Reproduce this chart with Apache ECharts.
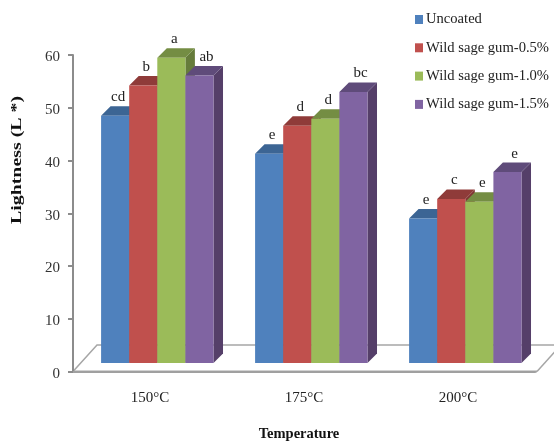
<!DOCTYPE html>
<html><head><meta charset="utf-8">
<style>html,body{margin:0;padding:0;background:#fff}#c{width:554px;height:446px}#c canvas{filter:blur(0.45px)}</style>
<script src="https://cdn.jsdelivr.net/npm/echarts@6/dist/echarts.min.js"></script>
</head><body><div id="c"></div>
<script>
var categories = ['150°C','175°C','200°C'];
var seriesNames = ['Uncoated','Wild sage gum-0.5%','Wild sage gum-1.0%','Wild sage gum-1.5%'];
var uncoated = [48.5,41.3,29.0];
var gum05 = [54.2,46.6,32.7];
var gum10 = [59.5,47.9,32.2];
var gum15 = [56.1,53.0,37.8];
var lettersUncoated = ['cd','e','e'];
var lettersGum05 = ['b','d','c'];
var lettersGum10 = ['a','d','e'];
var lettersGum15 = ['ab','bc','e'];
var values = [uncoated,gum05,gum10,gum15];
var letters = [lettersUncoated,lettersGum05,lettersGum10,lettersGum15];
var fronts = ['#4f81bd','#c0504d','#9bbb59','#8064a2'];
var tops = ['#3c6594','#8f3b39','#748d43','#5f4b7a'];
var sides = ['#375a85','#7f3533','#667c3b','#553f69'];
var chart = echarts.init(document.getElementById('c'),null,{renderer:'canvas'});
var SERIF = '"Liberation Serif","Times New Roman",serif';
function render(si){
  return function(params,api){
    var cat = api.value(0), val = api.value(1);
    var band = api.size([1,0])[0];
    var w = band*0.1825, depth = 9.5;
    var c = api.coord([cat,val]), base = api.coord([cat,0])[1]-8.5;
    var x = c[0]+7.3-2*w+si*w, y = c[1];
    var style = function(col){return {fill:col,stroke:null};};
    return {type:'group',children:[
      {type:'polygon',shape:{points:[[x+w,y],[x+w+depth,y-depth],[x+w+depth,base-depth],[x+w,base]]},style:style(sides[si])},
      {type:'polygon',shape:{points:[[x,y],[x+depth,y-depth],[x+w+depth,y-depth],[x+w,y]]},style:style(tops[si])},
      {type:'rect',shape:{x:x,y:y,width:w,height:base-y},style:style(fronts[si])},
      {type:'text',x:x+w/2+3+(si===3?4:0),y:y-11,style:{text:letters[si][params.dataIndex],fill:'#222',font:'15px '+SERIF,textAlign:'center',textVerticalAlign:'bottom'}}
    ]};
  };
}
chart.setOption({
  animation:false,
  color:fronts,
  textStyle:{fontFamily:SERIF},
  legend:{orient:'vertical',left:410,top:7,itemWidth:8,itemHeight:9,itemGap:13.3,icon:'rect',
    data:seriesNames,selectedMode:false,textStyle:{fontFamily:SERIF,fontSize:14.6,color:'#222',padding:[0,0,0,-2]}},
  grid:{left:73,top:55,width:462,height:316.5,containLabel:false,outerBoundsMode:'none'},
  xAxis:{type:'category',data:categories,
    axisLine:{lineStyle:{color:'#a0a0a0',width:2}},axisTick:{show:false},
    axisLabel:{margin:19,fontSize:15,color:'#222',fontFamily:SERIF},
    name:'Temperature',nameLocation:'middle',nameGap:55,
    nameTextStyle:{fontFamily:SERIF,fontWeight:'bold',fontSize:14.5,color:'#111',padding:[0,10,0,0]}},
  yAxis:{type:'value',min:0,max:60,interval:10,splitLine:{show:false},
    axisLine:{show:true,lineStyle:{color:'#8c8c8c',width:2}},
    axisTick:{show:true,length:5,lineStyle:{color:'#8c8c8c',width:2}},
    axisLabel:{margin:13,formatter:'{a|{value}}',rich:{a:{fontSize:15,color:'#333',fontFamily:SERIF,padding:[5,0,0,0]}}}},
  graphic:[{type:'group',z:-1,silent:true,children:[
    {type:'polyline',shape:{points:[[73,371.5],[97,345],[561,345]]},style:{stroke:'#a6a6a6',lineWidth:1.5,fill:null}},
    {type:'line',shape:{x1:73,y1:371.5,x2:537,y2:371.5},style:{stroke:'#a6a6a6',lineWidth:2}},
    {type:'line',shape:{x1:537,y1:371.5,x2:561,y2:345},style:{stroke:'#a6a6a6',lineWidth:1.5}}
  ]},{type:'text',silent:true,x:17,y:160,rotation:Math.PI/2,scaleX:1.42,
    style:{text:'Lightness (L *)',font:'bold 14px '+SERIF,fill:'#111',textAlign:'center',textVerticalAlign:'middle'}}],
  series:seriesNames.map(function(n,i){
    return {name:n,type:'custom',coordinateSystem:'cartesian2d',clip:false,
      itemStyle:{color:fronts[i]},encode:{x:0,y:1},
      data:values[i].map(function(v,j){return [j,v];}),renderItem:render(i)};
  })
});
</script></body></html>
